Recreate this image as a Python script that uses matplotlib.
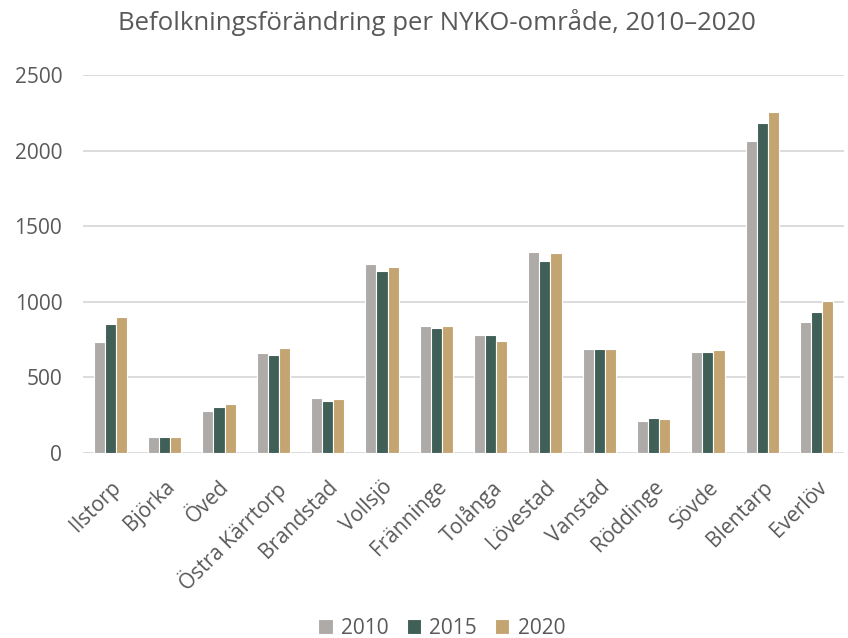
import numpy as np
import matplotlib.pyplot as plt

plt.rcParams['font.family'] = ['Open Sans', 'DejaVu Sans']

# NYKO-områden och befolkning per år
omraden = ['Ilstorp', 'Björka', 'Öved', 'Östra Kärrtorp', 'Brandstad', 'Vollsjö',
           'Fränninge', 'Tolånga', 'Lövestad', 'Vanstad', 'Röddinge', 'Sövde',
           'Blentarp', 'Everlöv']
bef_2010 = [737, 104, 278, 665, 367, 1252, 841, 781, 1327, 687, 214, 669, 2066, 864]
bef_2015 = [856, 106, 305, 647, 342, 1203, 830, 781, 1270, 687, 230, 671, 2181, 930]
bef_2020 = [900, 106, 327, 693, 360, 1234, 841, 744, 1323, 691, 225, 682, 2254, 1005]

years = ['2010', '2015', '2020']
colors = ['#AEAAA8', '#3F5F57', '#C4A471']

fig = plt.figure(figsize=(8.48, 6.38), dpi=100)
ax = fig.add_axes([0.098, 0.29, 0.897, 0.592])

x = np.arange(len(omraden))
w = 0.205
for i, (vals, col, yr) in enumerate(zip([bef_2010, bef_2015, bef_2020], colors, years)):
    ax.bar(x + (i - 1) * w, vals, width=w, color=col, edgecolor='white',
           linewidth=0.8, label=yr, zorder=3)

ax.set_xlim(-0.5, len(omraden) - 0.5)
ax.set_ylim(0, 2500)
ax.set_yticks(range(0, 2501, 500))
ax.grid(axis='y', color='#D9D9D9', linewidth=1.3, zorder=0)
for s in ax.spines.values():
    s.set_visible(False)
ax.tick_params(length=0, labelsize=15, colors='#595959')
ax.tick_params(axis='y', pad=15)
ax.set_xticks(x)
ax.set_xticklabels(omraden, rotation=45, ha='right', rotation_mode='anchor')
ax.tick_params(axis='x', pad=17)

fig.text(0.515, 0.965, 'Befolkningsförändring per NYKO-område, 2010–2020',
         ha='center', va='center', fontsize=18.5, color='#595959')

fig.legend(loc='center', bbox_to_anchor=(0.521, 0.015), ncol=3, frameon=False,
           fontsize=15, labelcolor='#595959', handlelength=0.7, handleheight=0.7,
           handletextpad=0.4, columnspacing=0.85)

fig.savefig('out.png', dpi=100)
